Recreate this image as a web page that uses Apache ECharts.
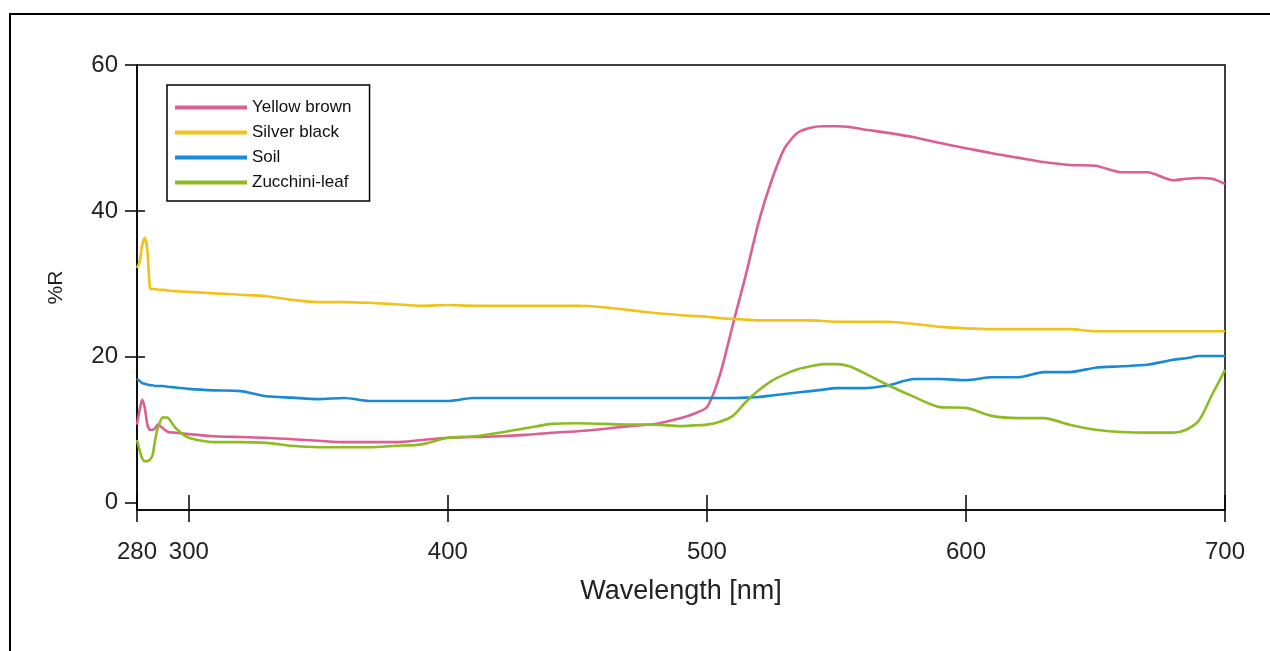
<!DOCTYPE html>
<html>
<head>
<meta charset="utf-8">
<script src="https://cdn.jsdelivr.net/npm/echarts@6/dist/echarts.min.js"></script>
<style>
html, body { margin: 0; padding: 0; background: #fff; }
#chart { width: 1270px; height: 651px; }
</style>
</head>
<body>
<div id="chart"></div>
<script>
//波长 (nm)
var wavelengths = [280, 281, 282, 283, 284, 285, 286, 287, 288, 290, 292, 295, 300, 310, 320, 330, 340, 350, 360, 370, 380, 390, 400, 410, 420, 430, 440, 450, 460, 470, 480, 490, 495, 500, 505, 510, 515, 520, 525, 530, 535, 540, 545, 550, 555, 560, 570, 580, 590, 600, 610, 620, 630, 640, 650, 660, 670, 680, 685, 690, 695, 700];

//各曲线 %R
var yellowBrown = [10.7, 12.7, 14.1, 13.0, 10.7, 10.0, 10.0, 10.2, 10.7, 10.2, 9.7, 9.6, 9.4, 9.1, 9.0, 8.9, 8.7, 8.5, 8.3, 8.3, 8.3, 8.6, 8.9, 9.0, 9.1, 9.3, 9.6, 9.8, 10.1, 10.5, 10.8, 11.6, 12.2, 13.1, 17.5, 24.4, 31.2, 38.5, 44.2, 48.6, 50.7, 51.4, 51.6, 51.6, 51.5, 51.2, 50.7, 50.1, 49.3, 48.6, 47.9, 47.3, 46.7, 46.3, 46.2, 45.3, 45.3, 44.2, 44.4, 44.5, 44.4, 43.7];
var silverBlack = [32.2, 33.0, 35.3, 36.3, 34.6, 29.4, 29.3, 29.3, 29.2, 29.2, 29.1, 29.0, 28.9, 28.7, 28.5, 28.3, 27.8, 27.5, 27.5, 27.4, 27.2, 27.0, 27.1, 27.0, 27.0, 27.0, 27.0, 27.0, 26.8, 26.4, 26.0, 25.7, 25.6, 25.5, 25.3, 25.2, 25.1, 25.0, 25.0, 25.0, 25.0, 25.0, 24.9, 24.8, 24.8, 24.8, 24.8, 24.5, 24.1, 23.9, 23.8, 23.8, 23.8, 23.8, 23.5, 23.5, 23.5, 23.5, 23.5, 23.5, 23.5, 23.5];
var soil = [17.0, 16.7, 16.4, 16.3, 16.2, 16.1, 16.1, 16.0, 16.0, 16.0, 15.9, 15.8, 15.6, 15.4, 15.3, 14.6, 14.4, 14.2, 14.35, 13.94, 13.94, 13.94, 13.94, 14.35, 14.35, 14.35, 14.35, 14.35, 14.35, 14.35, 14.35, 14.35, 14.35, 14.35, 14.35, 14.35, 14.4, 14.5, 14.7, 14.9, 15.1, 15.3, 15.5, 15.7, 15.7, 15.7, 16.1, 16.95, 16.95, 16.8, 17.2, 17.2, 17.9, 17.9, 18.5, 18.7, 18.9, 19.6, 19.8, 20.1, 20.1, 20.1];
var zucchiniLeaf = [8.6, 7.2, 6.1, 5.7, 5.7, 5.9, 6.5, 8.6, 10.2, 11.7, 11.6, 10.2, 8.9, 8.3, 8.3, 8.2, 7.8, 7.6, 7.6, 7.6, 7.8, 8.0, 8.9, 9.1, 9.6, 10.2, 10.8, 10.9, 10.8, 10.7, 10.7, 10.5, 10.6, 10.7, 11.1, 11.9, 13.8, 15.4, 16.7, 17.6, 18.3, 18.7, 19.0, 19.0, 18.7, 17.9, 16.1, 14.5, 13.1, 13.0, 11.9, 11.6, 11.6, 10.7, 10.0, 9.7, 9.6, 9.6, 10.0, 11.3, 14.8, 18.2];

//刻度
var xTicks = [280, 300, 400, 500, 600, 700];
var yTicks = [0, 20, 40, 60];

var seriesNames = ['Yellow brown', 'Silver black', 'Soil', 'Zucchini-leaf'];
var seriesColors = ['#dc5e93', '#f0c21c', '#1a8ad4', '#8dbc22'];
var seriesValues = [yellowBrown, silverBlack, soil, zucchiniLeaf];

var toPairs = function(vals) {
	var out = [];
	for (var i = 0; i < wavelengths.length; i++) {
		out.push([wavelengths[i], vals[i]]);
	}
	return out;
};

var fontFamily = 'Liberation Sans, Arial, sans-serif';

var series = [];
for (var i = 0; i < seriesNames.length; i++) {
	series.push({
		name: seriesNames[i],
		type: 'line',
		xAxisIndex: 0,
		yAxisIndex: 0,
		symbol: 'none',
		smooth: 0.25,
		data: toPairs(seriesValues[i]),
		lineStyle: { color: seriesColors[i], width: 2.6 },
		itemStyle: { color: seriesColors[i] }
	});
}

var chart = echarts.init(document.getElementById('chart'));
chart.setOption({
	animation: false,
	backgroundColor: '#fff',
	graphic: [{
		type: 'rect',
		shape: { x: 10, y: 14, width: 1290, height: 700 },
		style: { fill: 'none', stroke: '#000', lineWidth: 2 },
		silent: true
	}],
	grid: {
		left: 137,
		right: 45,
		top: 65,
		bottom: 141,
		show: true,
		borderColor: '#000',
		borderWidth: 1.5,
		backgroundColor: 'transparent'
	},
	legend: {
		orient: 'vertical',
		left: 167,
		top: 85,
		data: seriesNames,
		icon: 'rect',
		itemWidth: 72,
		itemHeight: 4,
		itemGap: 6,
		symbolKeepAspect: false,
		padding: [13, 18, 9, 8],
		borderColor: '#000',
		borderWidth: 1.5,
		textStyle: { fontFamily: fontFamily, fontSize: 17, lineHeight: 19, color: '#111' }
	},
	xAxis: [{
		type: 'value',
		min: 280,
		max: 700,
		name: 'Wavelength [nm]',
		nameLocation: 'middle',
		nameGap: 68,
		nameTextStyle: { fontFamily: fontFamily, fontSize: 27, color: '#222' },
		axisLine: { show: true, onZero: false, lineStyle: { color: '#000', width: 1.5 } },
		axisTick: { show: true, inside: false, length: 12, customValues: xTicks, lineStyle: { color: '#000', width: 1.5 } },
		axisLabel: { customValues: xTicks, margin: 30, fontFamily: fontFamily, fontSize: 24, color: '#222' },
		splitLine: { show: false }
	}, {
		type: 'value',
		min: 280,
		max: 700,
		position: 'bottom',
		axisLine: { show: false, onZero: false },
		axisTick: { show: true, inside: true, length: 15, customValues: xTicks, lineStyle: { color: '#000', width: 1.5 } },
		axisLabel: { show: false },
		splitLine: { show: false }
	}],
	yAxis: [{
		type: 'value',
		min: -1,
		max: 60,
		name: '%R',
		nameLocation: 'middle',
		nameGap: 70,
		nameRotate: 90,
		nameTextStyle: { fontFamily: fontFamily, fontSize: 21, color: '#222' },
		axisLine: { show: true, onZero: false, lineStyle: { color: '#000', width: 1.5 } },
		axisTick: { show: true, inside: false, length: 12, customValues: yTicks, lineStyle: { color: '#000', width: 1.5 } },
		axisLabel: { customValues: yTicks, margin: 19, fontFamily: fontFamily, fontSize: 24, color: '#222' },
		splitLine: { show: false }
	}, {
		type: 'value',
		min: -1,
		max: 60,
		position: 'left',
		axisLine: { show: false, onZero: false },
		axisTick: { show: true, inside: true, length: 8, customValues: [20, 40], lineStyle: { color: '#000', width: 1.5 } },
		axisLabel: { show: false },
		splitLine: { show: false }
	}],
	series: series
});
</script>
</body>
</html>
